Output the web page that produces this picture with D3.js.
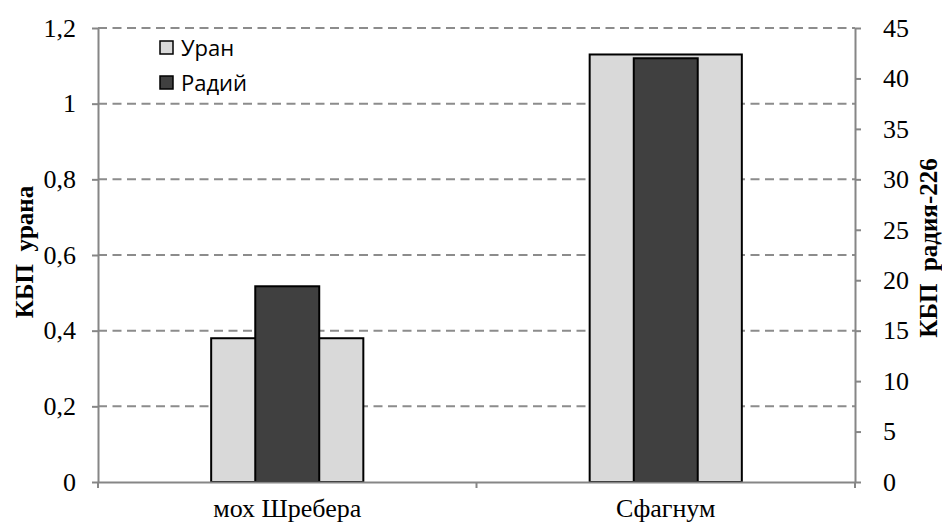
<!DOCTYPE html>
<html><head><meta charset="utf-8">
<script src="https://cdn.jsdelivr.net/npm/d3@7"></script>
<style>body{margin:0;background:#fff}</style>
</head><body>
<svg id="c" width="942" height="526"></svg>
<script>
const categories = ["мох Шребера", "Сфагнум"];
const uranium = [0.38, 1.13];
const radium = [19.4, 42];
const leftTicks = [0, 0.2, 0.4, 0.6, 0.8, 1, 1.2];
const rightTicks = [0, 5, 10, 15, 20, 25, 30, 35, 40, 45];
const seriesNames = ["Уран", "Радий"];

const svg = d3.select("#c");
const L = 98, R = 855, T = 28, B = 482;
const x = d3.scaleBand().domain(categories).range([L, R]);
const yL = d3.scaleLinear().domain([0, 1.2]).range([B, T]);
const yR = d3.scaleLinear().domain([0, 45]).range([B, T]);
const fmt = d => String(d).replace(".", ",");
const serif = '"Liberation Serif", "Times New Roman", serif';
const axisColor = "#868686";

// gridlines
svg.append("g").selectAll("line").data(leftTicks.filter(d => d > 0)).join("line")
  .attr("x1", L).attr("x2", R).attr("y1", d => yL(d)).attr("y2", d => yL(d))
  .attr("stroke", "#8c8c8c").attr("stroke-width", 2).attr("stroke-dasharray", "9,5.5");

// bars
const uw = x.bandwidth() * 0.402, rw = x.bandwidth() * 0.169;
svg.append("g").selectAll("rect").data(categories).join("rect")
  .attr("x", (d) => x(d) + x.bandwidth() / 2 - uw / 2)
  .attr("width", uw)
  .attr("y", (d, i) => yL(uranium[i]))
  .attr("height", (d, i) => B - yL(uranium[i]))
  .attr("fill", "#d9d9d9").attr("stroke", "#000").attr("stroke-width", 2);
svg.append("g").selectAll("rect").data(categories).join("rect")
  .attr("x", (d) => x(d) + x.bandwidth() / 2 - rw / 2)
  .attr("width", rw)
  .attr("y", (d, i) => yR(radium[i]))
  .attr("height", (d, i) => B - yR(radium[i]))
  .attr("fill", "#404040").attr("stroke", "#000").attr("stroke-width", 2);

// axes
function styleAxis(g, size) {
  g.attr("font-family", null).attr("font-size", null);
  g.select(".domain").attr("stroke", axisColor).attr("stroke-width", 2);
  g.selectAll(".tick line").attr("stroke", axisColor).attr("stroke-width", 2);
  g.selectAll(".tick text").style("font-family", serif).style("font-size", size + "px").attr("fill", "#000");
}
const gl = svg.append("g").attr("transform", `translate(${L},0)`)
  .call(d3.axisLeft(yL).tickValues(leftTicks).tickFormat(fmt).tickSize(6).tickPadding(16).tickSizeOuter(0));
styleAxis(gl, 26);
const gr = svg.append("g").attr("transform", `translate(${R},0)`)
  .call(d3.axisRight(yR).tickValues(rightTicks).tickSize(6).tickPadding(22).tickSizeOuter(0));
styleAxis(gr, 26);
const gb = svg.append("g").attr("transform", `translate(0,${B})`)
  .call(d3.axisBottom(x).tickSize(0).tickPadding(17));
styleAxis(gb, 26);
// category boundary ticks
const bounds = [L, ...categories.slice(1).map(c => x(c)), R];
svg.append("g").selectAll("line").data(bounds).join("line")
  .attr("x1", d => d).attr("x2", d => d).attr("y1", B).attr("y2", B + 6)
  .attr("stroke", axisColor).attr("stroke-width", 2);

// axis titles
svg.append("text").attr("transform", `translate(33,252) rotate(-90)`)
  .attr("text-anchor", "middle").style("font-family", serif).style("font-weight", "bold")
  .style("font-size", "25px").style("white-space", "pre").text("КБП  урана");
svg.append("text").attr("transform", `translate(937,248) rotate(-90)`)
  .attr("text-anchor", "middle").style("font-family", serif).style("font-weight", "bold")
  .style("font-size", "25px").style("white-space", "pre").text("КБП  радия-226");

// legend
const lg = svg.append("g");
const colors = ["#d9d9d9", "#404040"];
seriesNames.forEach((n, i) => {
  const yy = 41 + i * 35;
  lg.append("rect").attr("x", 160).attr("y", yy).attr("width", 13).attr("height", 13)
    .attr("fill", colors[i]).attr("stroke", "#000").attr("stroke-width", 1.5);
  lg.append("text").attr("x", 181).attr("y", yy + 15)
    .style("font-family", '"Open Sans", "Noto Sans", sans-serif')
    .style("font-size", "22px").text(n);
});
</script>
</body></html>
